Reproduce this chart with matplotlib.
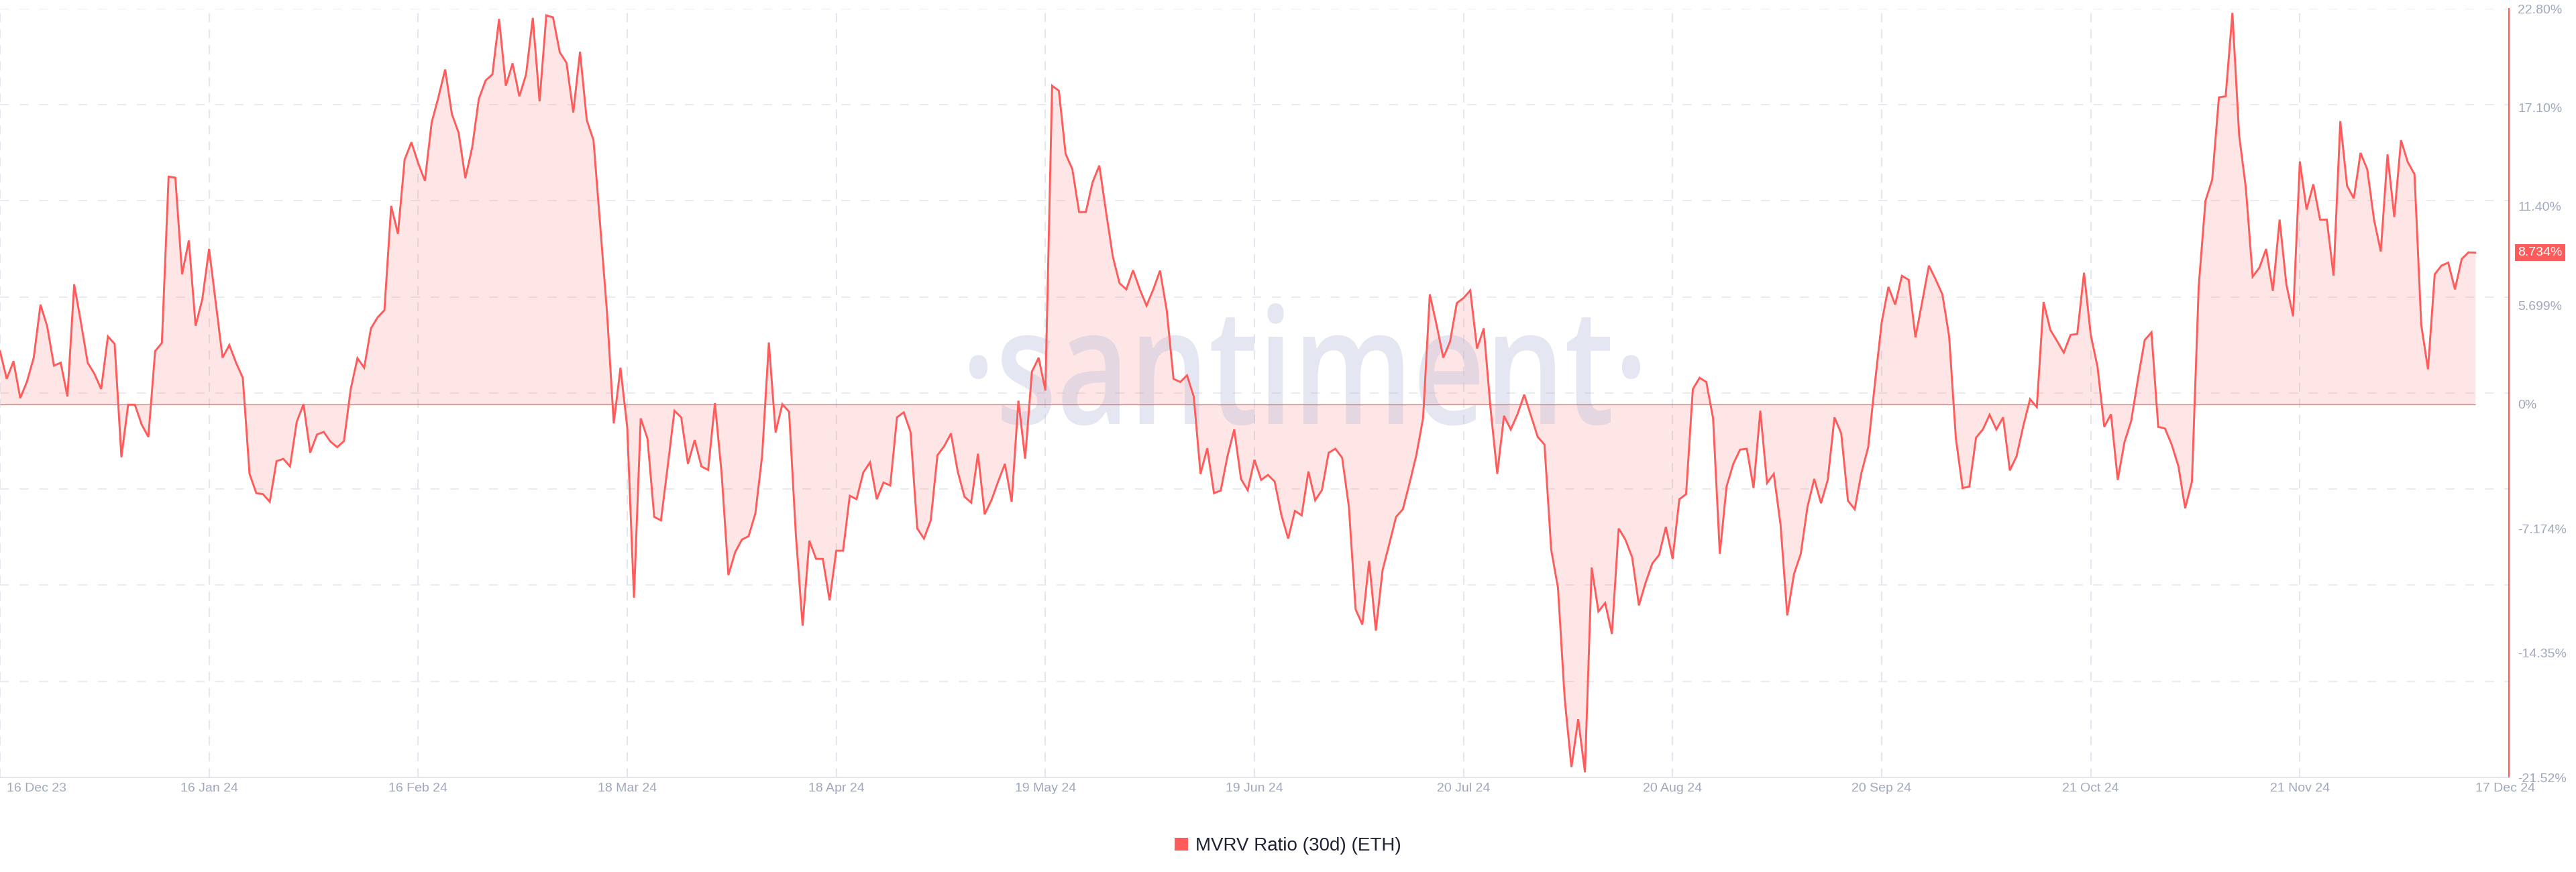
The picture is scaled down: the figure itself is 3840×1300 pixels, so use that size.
import numpy as np
import pandas as pd
import matplotlib
matplotlib.use('Agg')
import matplotlib.pyplot as plt
from matplotlib.patches import Patch, PathPatch
from matplotlib.textpath import TextPath
from matplotlib.font_manager import FontProperties
from matplotlib.transforms import Affine2D, ScaledTranslation

# MVRV Ratio (30d) ETH, daily values in %, starting 16 Dec 2023
start_date = '2023-12-16'
mvrv = [
    3.06, 1.46, 2.48, 0.35, 1.31, 2.68, 5.74, 4.49, 2.22, 2.39,
    0.44, 6.91, 4.72, 2.39, 1.75, 0.87, 3.91, 3.47, -3.06, -0.03,
    -0.03, -1.17, -1.89, 3.06, 3.53, 13.12, 13.06, 7.49, 9.44, 4.52,
    6.06, 8.95, 5.80, 2.68, 3.41, 2.39, 1.52, -4.02, -5.13, -5.19,
    -5.63, -3.29, -3.15, -3.59, -1.02, 0.00, -2.80, -1.75, -1.60, -2.16,
    -2.48, -2.13, 0.87, 2.65, 2.10, 4.37, 5.01, 5.42, 11.43, 9.82,
    14.11, 15.10, 13.90, 12.88, 16.24, 17.69, 19.30, 16.73, 15.65, 13.03,
    14.78, 17.61, 18.66, 19.01, 22.21, 18.36, 19.65, 17.75, 19.01, 22.27,
    17.46, 22.42, 22.30, 20.29, 19.68, 16.82, 20.32, 16.38, 15.22, 10.26,
    5.31, -1.11, 2.10, -1.34, -11.16, -0.82, -1.98, -6.50, -6.70, -3.59,
    -0.38, -0.76, -3.44, -2.07, -3.59, -3.79, 0.06, -4.02, -9.85, -8.54,
    -7.81, -7.61, -6.30, -3.00, 3.56, -1.63, 0.00, -0.44, -7.52, -12.77,
    -7.87, -8.92, -8.92, -11.31, -8.45, -8.45, -5.28, -5.48, -3.94, -3.35,
    -5.48, -4.52, -4.69, -0.76, -0.47, -1.60, -7.17, -7.75, -6.70, -2.94,
    -2.42, -1.69, -3.88, -5.33, -5.68, -2.86, -6.35, -5.54, -4.46, -3.44,
    -5.63, 0.20, -3.15, 1.87, 2.68, 0.79, 18.36, 18.07, 14.43, 13.55,
    11.08, 11.08, 12.80, 13.76, 11.08, 8.51, 6.97, 6.62, 7.72, 6.62,
    5.68, 6.62, 7.70, 5.39, 1.46, 1.28, 1.66, 0.44, -4.02, -2.54,
    -5.13, -4.98, -3.00, -1.46, -4.31, -4.96, -3.21, -4.37, -4.08, -4.46,
    -6.41, -7.75, -6.15, -6.41, -3.88, -5.54, -4.96, -2.80, -2.57, -3.09,
    -5.92, -11.83, -12.71, -9.04, -13.06, -9.56, -8.05, -6.50, -6.06, -4.55,
    -2.94, -0.82, 6.33, 4.58, 2.68, 3.61, 5.83, 6.12, 6.56, 3.21,
    4.37, -0.23, -4.02, -0.67, -1.46, -0.58, 0.55, -0.67, -1.89, -2.33,
    -8.40, -10.58, -16.99, -20.93, -18.16, -21.22, -9.42, -11.95, -11.46, -13.25,
    -7.17, -7.81, -8.83, -11.60, -10.29, -9.18, -8.69, -7.08, -8.92, -5.48,
    -5.19, 0.87, 1.52, 1.28, -0.82, -8.63, -4.75, -3.44, -2.62, -2.57,
    -4.84, -0.38, -4.55, -4.02, -6.94, -12.18, -9.79, -8.63, -5.92, -4.31,
    -5.71, -4.37, -0.76, -1.69, -5.57, -6.06, -3.96, -2.48, 1.22, 4.72,
    6.76, 5.74, 7.40, 7.17, 3.85, 5.89, 7.99, 7.20, 6.33, 3.91,
    -1.98, -4.84, -4.75, -1.92, -1.46, -0.61, -1.46, -0.76, -3.82, -3.00,
    -1.25, 0.29, -0.17, 5.89, 4.29, 3.64, 2.97, 3.99, 4.05, 7.58,
    3.99, 2.16, -1.31, -0.58, -4.37, -2.19, -0.96, 1.46, 3.70, 4.14,
    -1.31, -1.40, -2.33, -3.59, -6.00, -4.46, 6.76, 11.72, 12.94, 17.69,
    17.75, 22.56, 15.51, 12.45, 7.35, 7.87, 8.95, 6.53, 10.64, 6.91,
    5.07, 13.99, 11.22, 12.68, 10.64, 10.64, 7.40, 16.32, 12.59, 11.86,
    14.49, 13.53, 10.64, 8.80, 14.40, 10.79, 15.22, 13.96, 13.26, 4.58,
    2.01, 7.49, 7.99, 8.16, 6.62, 8.37, 8.75, 8.734,
]

tick_dates = ['2023-12-16', '2024-01-16', '2024-02-16', '2024-03-18', '2024-04-18',
              '2024-05-19', '2024-06-19', '2024-07-20', '2024-08-20', '2024-09-20',
              '2024-10-21', '2024-11-21', '2024-12-17']
tick_labels = ['16 Dec 23', '16 Jan 24', '16 Feb 24', '18 Mar 24', '18 Apr 24',
               '19 May 24', '19 Jun 24', '20 Jul 24', '20 Aug 24', '20 Sep 24',
               '21 Oct 24', '21 Nov 24', '17 Dec 24']
y_ticks = [22.80, 17.10, 11.40, 5.699, 0, -7.174, -14.35, -21.52]
y_labels = ['22.80%', '17.10%', '11.40%', '5.699%', '0%', '-7.174%', '-14.35%', '-21.52%']
last_label = '8.734%'
series_name = 'MVRV Ratio (30d) (ETH)'

dates = pd.date_range(start_date, periods=len(mvrv), freq='D')
ticks = pd.to_datetime(tick_dates)

RED = '#FF5B5B'
GRID = '#E5E7F0'
TXT = '#A0A8BE'

plt.rcParams['font.family'] = ['Liberation Sans', 'DejaVu Sans']

W, H = 3840, 1300
fig = plt.figure(figsize=(W / 100, H / 100), dpi=100)
fig.patch.set_facecolor('white')
ax = fig.add_axes([0, 1 - 1159 / H, 3740 / W, (1159 - 13) / H])

ymin, ymax = y_ticks[-1], y_ticks[0]

# grid: horizontal lines evenly spaced, vertical at the date ticks
for yv in np.linspace(ymin, ymax, 9)[1:]:
    ax.axhline(yv, color=GRID, lw=1.2, ls=(0, (8, 9.5)), zorder=0)
for d in ticks[:-1]:
    ax.axvline(d, color=GRID, lw=1.5, ls=(0, (6.5, 5)), zorder=0)

ax.fill_between(dates, mvrv, 0, color=RED, alpha=0.15, lw=0, zorder=1)
ax.hlines(0, dates[0], dates[-1], color=RED, lw=0.9, zorder=3)
ax.plot(dates, mvrv, color=RED, lw=2.1, zorder=4, solid_joinstyle='miter')

# watermark
fp = FontProperties(family='Open Sans', weight=600)
wm = TextPath((0, 0), '\u00b7santiment\u00b7', size=100, prop=fp)
ext = wm.get_extents()
xh = TextPath((0, 0), 'x', size=100, prop=fp).get_extents().height
sx = (2445 - 1445) / ext.width
sy = 130 / xh
tr = (Affine2D().translate(-ext.x0, 0).scale(sx, sy).translate(1445, H - 632)
      .scale(1 / W, 1 / H) + fig.transFigure)
ax.add_artist(PathPatch(wm, transform=tr, fc=(182 / 255, 190 / 255, 217 / 255),
                        alpha=0.37, ec='none', zorder=2, clip_on=False))

ax.set_xlim(dates[0], dates[0] + pd.Timedelta(days=372))
ax.set_ylim(ymin, ymax)

for s in ['top', 'left']:
    ax.spines[s].set_visible(False)
ax.spines['right'].set_color(RED)
ax.spines['right'].set_linewidth(1.5)
ax.spines['bottom'].set_color('#DDE0EA')
ax.spines['bottom'].set_linewidth(1.1)

ax.yaxis.tick_right()
ax.set_yticks(y_ticks)
ax.set_yticklabels(y_labels)
ax.tick_params(axis='y', length=0, pad=9.5, labelsize=14, labelcolor=TXT)

ax.set_xticks(ticks)
ax.set_xticklabels(tick_labels)
ax.tick_params(axis='x', length=0, pad=6, labelsize=14, labelcolor=TXT)
xl = ax.get_xticklabels()
xl[0].set_ha('left')
xl[0].set_transform(xl[0].get_transform() + ScaledTranslation(0.1, 0, fig.dpi_scale_trans))
xl[-1].set_ha('left')

# current value tag
ax.annotate(last_label, xy=(1, mvrv[-1]), xycoords=('axes fraction', 'data'),
            xytext=(9.5, 0), textcoords='offset points', ha='left', va='center',
            color='white', fontsize=14, annotation_clip=False,
            bbox=dict(boxstyle='square,pad=0.22', fc=RED, ec='none'))

fig.legend(handles=[Patch(facecolor=RED, edgecolor='none', label=series_name)],
           loc='center', bbox_to_anchor=(0.5, 1 - 1261 / H), frameon=False,
           fontsize=20, handlelength=0.7, handleheight=0.7, handletextpad=0.4,
           labelcolor='#1F2235')

fig.savefig('out.png', dpi=100, facecolor='white')
